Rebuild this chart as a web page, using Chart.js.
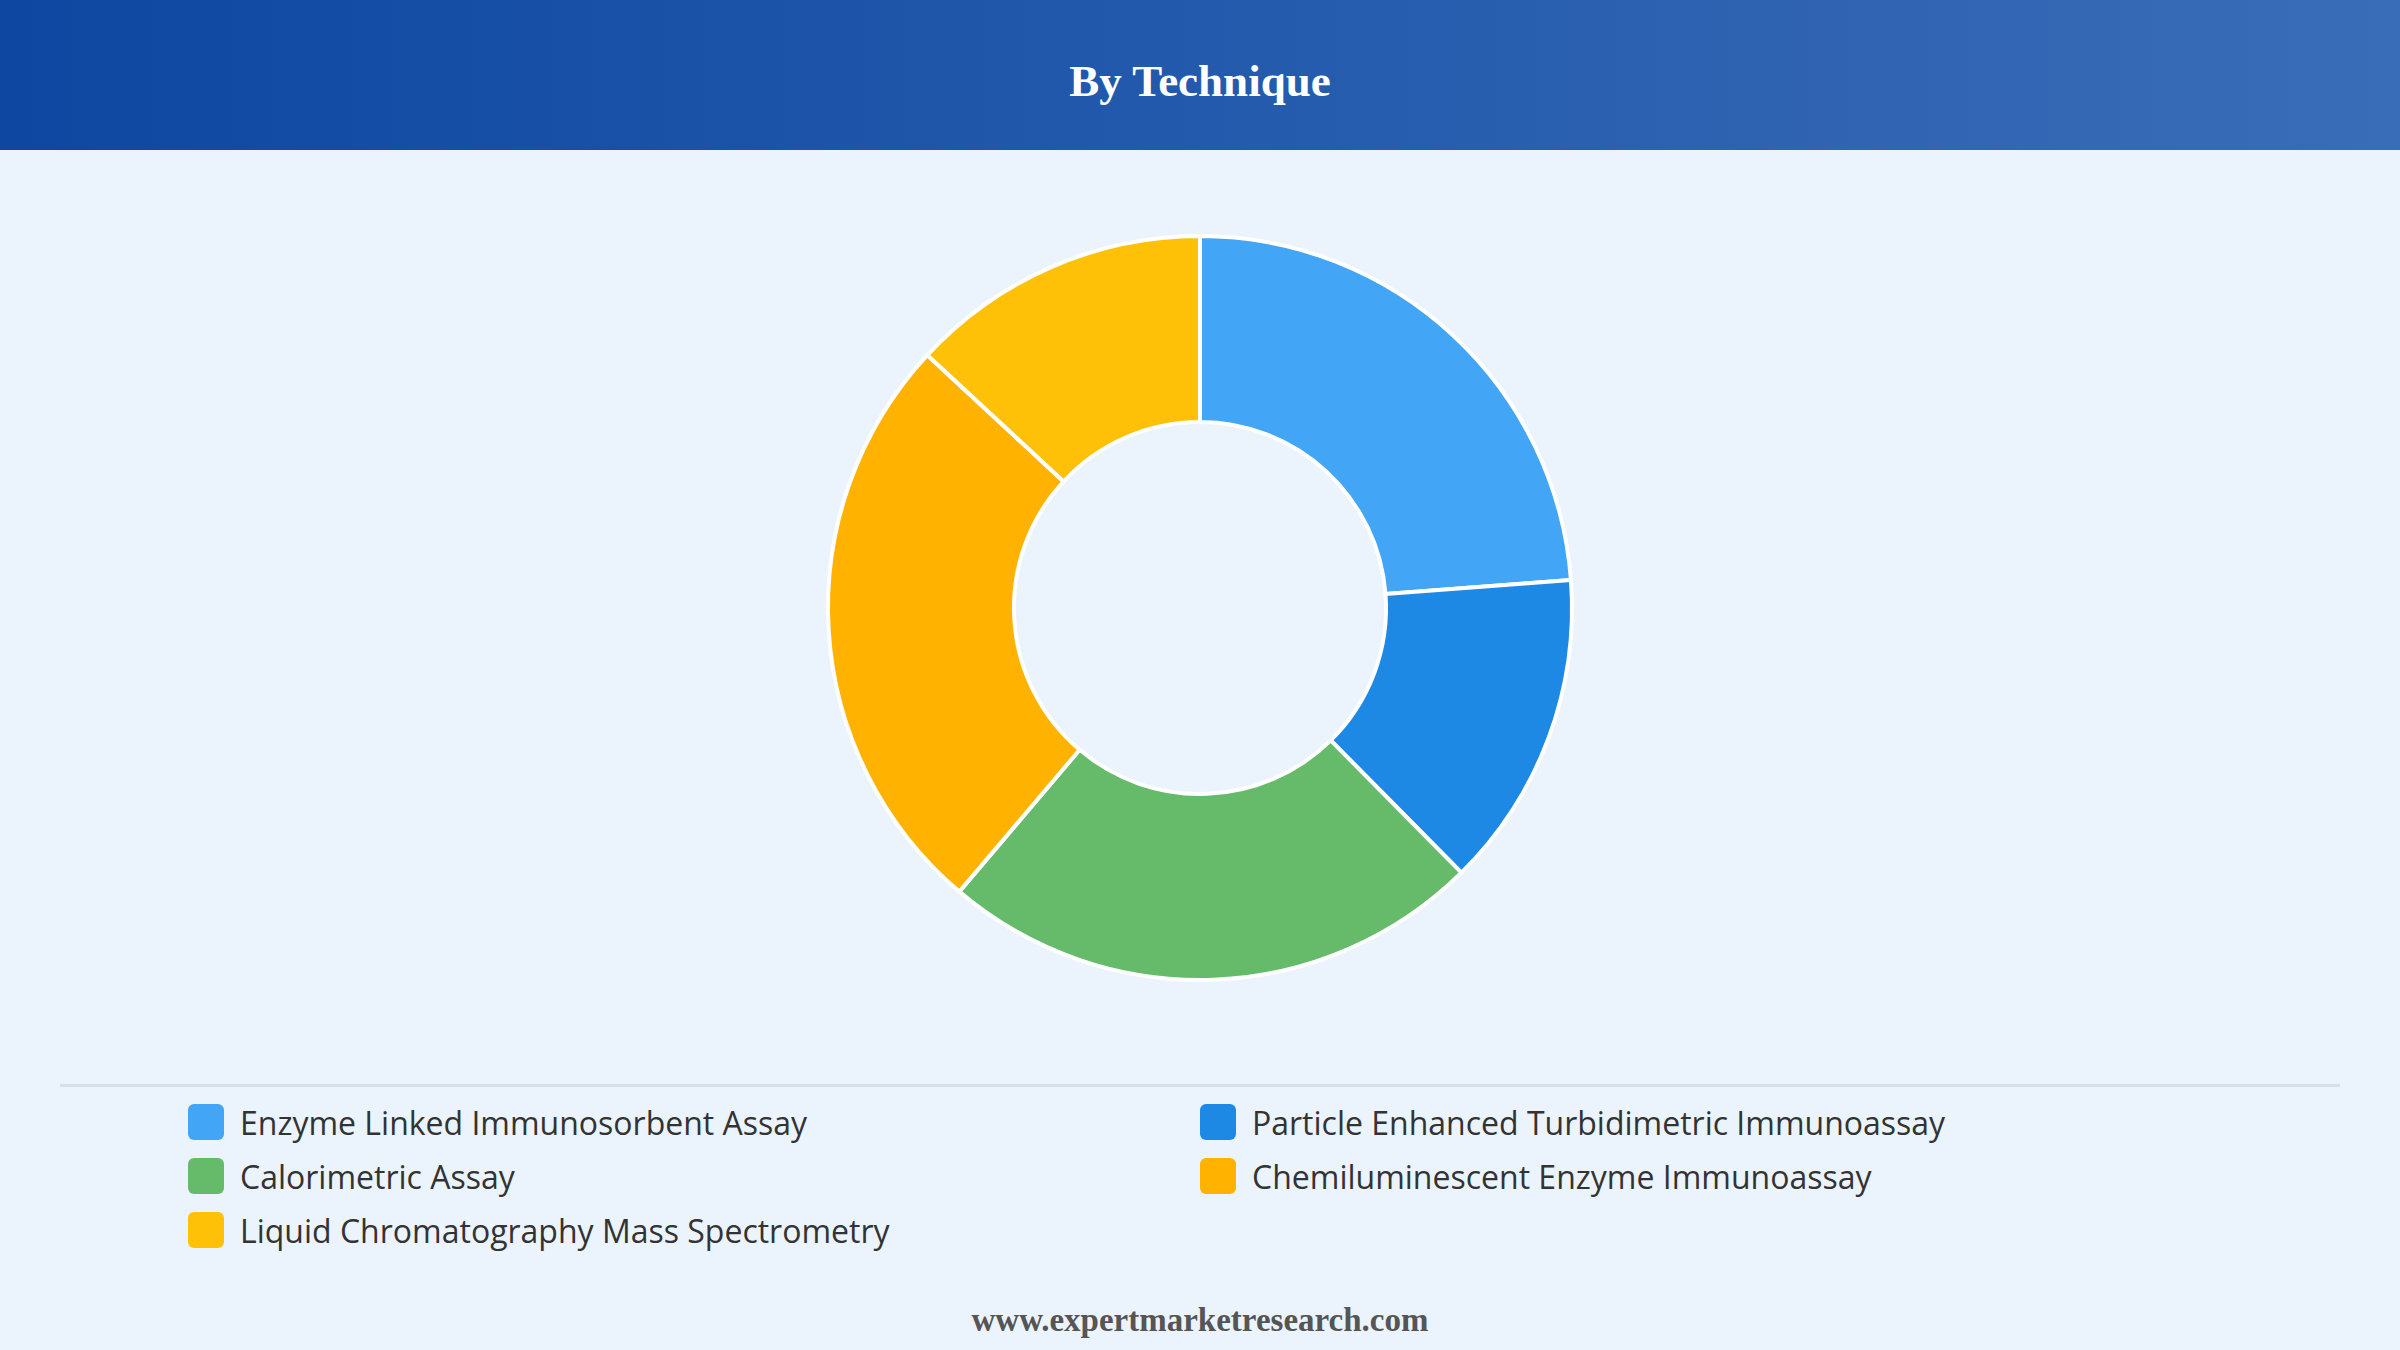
<!DOCTYPE html>
<html><head><meta charset="utf-8">
<script src="https://cdn.jsdelivr.net/npm/chart.js@4/dist/chart.umd.min.js"></script>
<style>
html,body{margin:0;padding:0;width:2400px;height:1350px;background:#EBF3FC;overflow:hidden;font-family:"Open Sans","Noto Sans",sans-serif}
#hdr{position:absolute;left:0;top:0;width:2400px;height:150px;background:linear-gradient(90deg,#0D47A1,#3A6DB8);}
#hdr h1{margin:0;text-align:center;color:#fff;font:bold 45px "Liberation Serif","DejaVu Serif",serif;line-height:162px}
#wrap{position:absolute;left:0;top:150px;width:2400px;height:916px}
#sep{position:absolute;left:60px;top:1084px;width:2280px;height:3px;background:#D6DEE8}
.li{position:absolute;font-size:32px;color:#333;display:flex;align-items:center;height:40px}
.sw{width:36px;height:36px;border-radius:6px;margin-right:16px}
#ft{position:absolute;left:0;width:2400px;top:1302px;text-align:center;color:#555;font:bold 33px "Liberation Serif","DejaVu Serif",serif}
</style></head><body>
<div id="hdr"><h1>By Technique</h1></div>
<div id="wrap"><canvas id="c"></canvas></div>
<div id="sep"></div>
<div id="legend"></div>
<div id="ft">www.expertmarketresearch.com</div>
<script>
const categories=["Enzyme Linked Immunosorbent Assay","Particle Enhanced Turbidimetric Immunoassay","Calorimetric Assay","Chemiluminescent Enzyme Immunoassay","Liquid Chromatography Mass Spectrometry"];
const values=[23.8,13.8,23.6,25.7,13.1];
const colors=["#42A5F5","#1E88E5","#66BB6A","#FFB300","#FFC107"];
new Chart(document.getElementById('c'),{type:'doughnut',
data:{labels:categories,datasets:[{data:values,backgroundColor:colors,borderColor:'#fff',borderWidth:4}]},
options:{responsive:true,maintainAspectRatio:false,animation:false,cutout:'50%',
layout:{padding:84},plugins:{legend:{display:false},tooltip:{enabled:false}}}});
const lg=document.getElementById('legend');
const pos=[[188,1102],[1200,1102],[188,1156],[1200,1156],[188,1210]];
categories.forEach((c,i)=>{const d=document.createElement('div');d.className='li';
d.style.left=pos[i][0]+'px';d.style.top=pos[i][1]+'px';
d.innerHTML='<div class="sw" style="background:'+colors[i]+'"></div>'+c;lg.appendChild(d);});
</script></body></html>
